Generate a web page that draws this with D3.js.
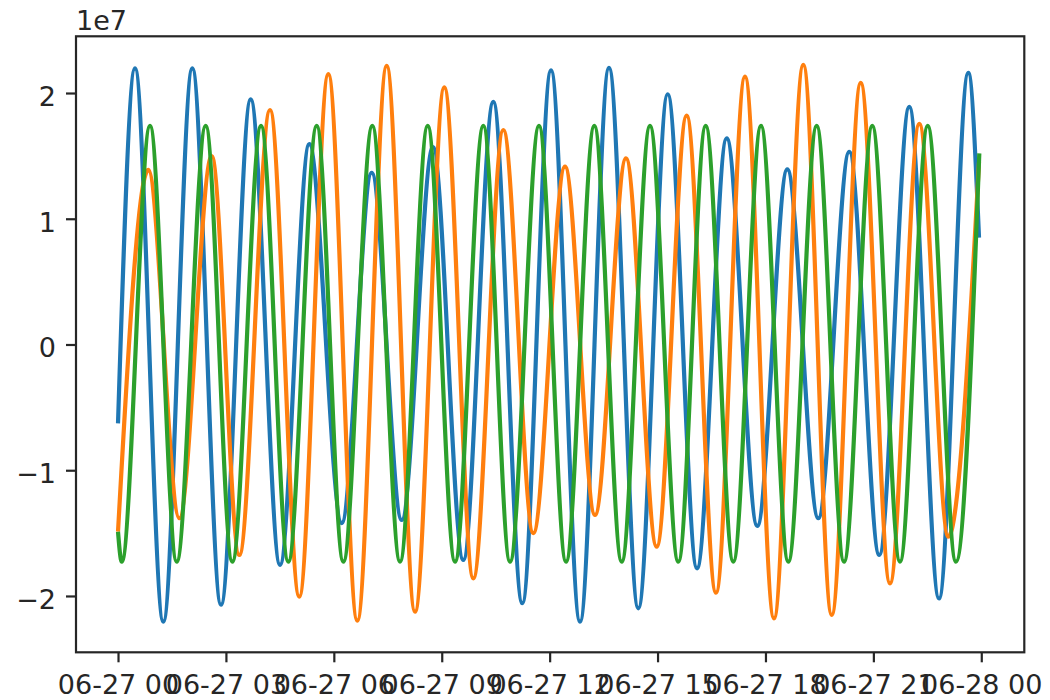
<!DOCTYPE html>
<html>
<head>
<meta charset="utf-8">
<script src="https://cdn.jsdelivr.net/npm/d3@7"></script>
<style>
  html, body { margin: 0; padding: 0; background: #ffffff; }
  svg { display: block; }
  text { font-family: "DejaVu Sans", sans-serif; }
</style>
</head>
<body>
<svg id="chart" width="1050" height="700"></svg>
<script>
// ---- data (time in hours after 06-27 00:00) ----
const blueHours = [0, 0.473, 1.259, 2.066, 2.863, 3.689, 4.504, 5.318, 6.219, 7.053, 7.887, 8.757, 9.600, 10.434, 11.240, 12.038, 12.844, 13.650, 14.465, 15.282, 16.097, 16.923, 17.773, 18.607, 19.469, 20.331, 21.165, 21.999, 22.825, 23.639, 23.937];
const blueValues = [-0.627e7, 2.196e7, -2.204e7, 2.196e7, -2.07e7, 1.95e7, -1.753e7, 1.594e7, -1.42e7, 1.366e7, -1.396e7, 1.57e7, -1.714e7, 1.93e7, -2.058e7, 2.18e7, -2.204e7, 2.20e7, -2.098e7, 1.99e7, -1.78e7, 1.64e7, -1.443e7, 1.393e7, -1.382e7, 1.533e7, -1.674e7, 1.89e7, -2.02e7, 2.16e7, 0.85e7];

const orangeHours = [0, 0.842, 1.704, 2.605, 3.372, 4.226, 5.040, 5.847, 6.653, 7.470, 8.257, 9.071, 9.878, 10.712, 11.546, 12.427, 13.261, 14.123, 14.976, 15.810, 16.625, 17.431, 18.237, 19.052, 19.842, 20.648, 21.462, 22.277, 23.083, 23.937];
const orangeValues = [-1.489e7, 1.388e7, -1.382e7, 1.499e7, -1.674e7, 1.865e7, -2.005e7, 2.15e7, -2.196e7, 2.215e7, -2.125e7, 2.045e7, -1.86e7, 1.706e7, -1.50e7, 1.414e7, -1.356e7, 1.48e7, -1.608e7, 1.82e7, -1.974e7, 2.13e7, -2.178e7, 2.223e7, -2.151e7, 2.08e7, -1.90e7, 1.754e7, -1.528e7, 1.45e7];

const greenHours = [0, 0.103, 0.890, 1.632, 2.438, 3.178, 3.976, 4.735, 5.524, 6.264, 7.070, 7.840, 8.610, 9.369, 10.156, 10.898, 11.704, 12.455, 13.242, 14.003, 14.790, 15.577, 16.339, 17.106, 17.876, 18.635, 19.424, 20.184, 20.970, 21.740, 22.511, 23.297, 23.945];
const greenValues = [-1.489e7, -1.727e7, 1.738e7, -1.727e7, 1.738e7, -1.727e7, 1.738e7, -1.727e7, 1.738e7, -1.727e7, 1.738e7, -1.727e7, 1.738e7, -1.727e7, 1.738e7, -1.727e7, 1.738e7, -1.727e7, 1.738e7, -1.727e7, 1.738e7, -1.727e7, 1.738e7, -1.727e7, 1.738e7, -1.727e7, 1.738e7, -1.727e7, 1.738e7, -1.727e7, 1.738e7, -1.727e7, 1.52e7];

const xTickHours = [0, 3, 6, 9, 12, 15, 18, 21, 24];
const yTickValues = [-2e7, -1e7, 0, 1e7, 2e7];
const offsetLabel = "1e7";

// ---- drawing ----
const base = Date.UTC(2021, 5, 27, 0, 0, 0);
const toDate = h => new Date(base + h * 3600e3);

const box = { left: 76, right: 1024.3, top: 36.3, bottom: 652.3 };
const ink = "#262626";
const fontSize = 27;

const svg = d3.select("#chart");

const x = d3.scaleUtc()
  .domain([toDate(-1.168), toDate(25.196)])
  .range([box.left, box.right]);
const y = d3.scaleLinear()
  .domain([-2.448e7, 2.451e7])
  .range([box.bottom, box.top]);

const series = [
  { hours: blueHours, values: blueValues, color: "#1f77b4" },
  { hours: orangeHours, values: orangeValues, color: "#ff7f0e" },
  { hours: greenHours, values: greenValues, color: "#2ca02c" }
];

const line = d3.line()
  .x(d => x(toDate(d[0])))
  .y(d => y(d[1]))
  .curve(d3.curveMonotoneX);

svg.append("g").selectAll("path")
  .data(series)
  .join("path")
  .attr("d", s => line(s.hours.map((h, i) => [h, s.values[i]])))
  .attr("fill", "none")
  .attr("stroke", s => s.color)
  .attr("stroke-width", 4.2)
  .attr("stroke-linejoin", "round")
  .attr("stroke-linecap", "butt");

// frame
svg.append("rect")
  .attr("x", box.left).attr("y", box.top)
  .attr("width", box.right - box.left).attr("height", box.bottom - box.top)
  .attr("fill", "none").attr("stroke", ink).attr("stroke-width", 2.2);

// x axis
const xAxis = svg.append("g")
  .attr("transform", `translate(0,${box.bottom})`)
  .call(d3.axisBottom(x)
    .tickValues(xTickHours.map(toDate))
    .tickFormat(d3.utcFormat("%m-%d %H"))
    .tickSize(10).tickPadding(13));
xAxis.select(".domain").remove();
xAxis.selectAll("line").attr("stroke", ink).attr("stroke-width", 2.2);
xAxis.selectAll("text").attr("fill", ink).attr("font-size", fontSize)
  .attr("font-family", "DejaVu Sans");

// y axis
const yAxis = svg.append("g")
  .attr("transform", `translate(${box.left},0)`)
  .call(d3.axisLeft(y)
    .tickValues(yTickValues)
    .tickFormat(d => d3.format("d")(d / 1e7))
    .tickSize(10).tickPadding(10));
yAxis.select(".domain").remove();
yAxis.selectAll("line").attr("stroke", ink).attr("stroke-width", 2.2);
yAxis.selectAll("text").attr("fill", ink).attr("font-size", fontSize)
  .attr("font-family", "DejaVu Sans").attr("dy", "0.46em");

// offset label
svg.append("text")
  .attr("x", box.left).attr("y", 30)
  .attr("fill", ink).attr("font-size", fontSize)
  .attr("font-family", "DejaVu Sans")
  .text(offsetLabel);
</script>
</body>
</html>
